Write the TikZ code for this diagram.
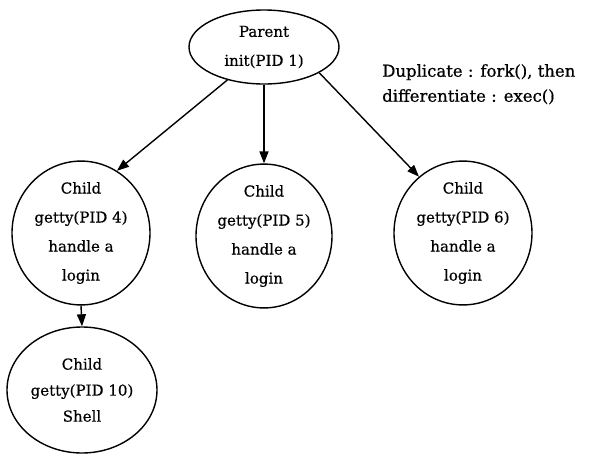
\documentclass[tikz,border=0pt]{standalone}
\usepackage{fontspec}
\setmainfont[FakeBold=0.6]{DejaVu Serif}
\usetikzlibrary{shapes.geometric,arrows.meta}
\begin{document}
\begin{tikzpicture}[x=1pt,y=-1pt,
  proc/.style={draw, ellipse, line width=1.4pt, inner sep=0pt, align=center,
    font=\fontsize{15}{29}\selectfont},
  link/.style={line width=1.4pt, -{Triangle[length=12pt,width=9pt]}},
  note/.style={align=left, inner sep=0pt, font=\fontsize{16.5}{25}\selectfont}]
\useasboundingbox (0,0) rectangle (590,456);

% process tree
\node[proc, minimum width=150pt, minimum height=74pt] (parent) at (264,47) {Parent\\init(PID 1)};
\node[proc, minimum width=138pt, minimum height=128pt] (c4) at (81,233) {Child\\getty(PID 4)\\handle a\\login};
\node[proc, minimum width=136pt, minimum height=128pt] (c5) at (264,236) {Child\\getty(PID 5)\\handle a\\login};
\node[proc, minimum width=138pt, minimum height=118pt] (c6) at (463,233) {Child\\getty(PID 6)\\handle a\\login};
\node[proc, minimum width=150pt, minimum height=126pt, font=\fontsize{15}{26}\selectfont] (c10) at (82,390) {Child\\getty(PID 10)\\Shell};

% remark
\node[note, anchor=north west] (remark) at (382,64) {Duplicate : fork(), then\\differentiate : exec()};

% fork arrows
\draw[link] (parent.222) -- (c4.60);
\draw[link] (parent.south) -- (c5.north);
\draw[link] (parent.335) -- (c6.128);
\draw[link] (c4.south) -- (c10.north);
\end{tikzpicture}
\end{document}
